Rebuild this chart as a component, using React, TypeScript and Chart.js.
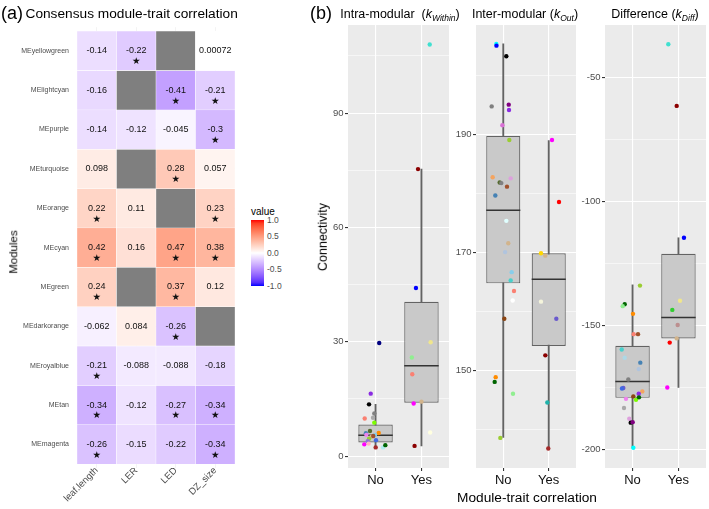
import React, { useEffect, useRef } from 'react';
import { Chart, registerables } from 'chart.js';

Chart.register(...registerables);

const FONT = '"Liberation Sans", Arial, Helvetica, sans-serif';
Chart.defaults.font.family = FONT;

// ---------------- (a) heatmap data ----------------
const modules = ['MEyellowgreen', 'MElightcyan', 'MEpurple', 'MEturquoise', 'MEorange', 'MEcyan', 'MEgreen', 'MEdarkorange', 'MEroyalblue', 'MEtan', 'MEmagenta'];
const traits = ['leaf.length', 'LER', 'LED', 'DZ_size'];
const corrLeafLength = [-0.14, -0.16, -0.14, 0.098, 0.22, 0.42, 0.24, -0.062, -0.21, -0.34, -0.26];
const corrLER = [-0.22, null, -0.12, null, 0.11, 0.16, null, 0.084, -0.088, -0.12, -0.15];
const corrLED = [null, -0.41, -0.045, 0.28, null, 0.47, 0.37, -0.26, -0.088, -0.27, -0.22];
const corrDZ = [0.00072, -0.21, -0.3, 0.057, 0.23, 0.38, 0.12, null, -0.18, -0.34, -0.34];
const sigLeafLength = [0, 0, 0, 0, 1, 1, 1, 0, 1, 1, 1];
const sigLER = [1, 0, 0, 0, 0, 0, 0, 0, 0, 0, 0];
const sigLED = [0, 1, 0, 1, 0, 1, 1, 1, 0, 1, 0];
const sigDZ = [0, 1, 1, 0, 1, 1, 0, 0, 0, 1, 1];
const legendTicks = [1.0, 0.5, 0.0, -0.5, -1.0];

const traitCols = [corrLeafLength, corrLER, corrLED, corrDZ];
const sigCols = [sigLeafLength, sigLER, sigLED, sigDZ];

// ---------------- (b) box plot data ----------------
const groupPos = [1, 2];
const groupLabels = ['No', 'Yes'];

// Intra-modular (kWithin)
const withinLower = [2.2, 2.7];
const withinQ1 = [3.6, 14.0];
const withinMedian = [5.5, 23.7];
const withinQ3 = [8.3, 40.5];
const withinUpper = [13.6, 75.3];
const withinTicks = [0, 30, 60, 90];
const withinMinorTicks = [15, 45, 75, 105];
const withinPoints: [string, number, number][] = [
  ['navy', 1.08, 29.7], ['blueviolet', 0.895, 16.4], ['black', 0.858, 13.6], ['grey', 0.973, 11.2],
  ['salmon', 0.764, 9.9], ['darkgrey', 0.945, 10.1], ['lawngreen', 0.973, 8.8], ['darkolivegreen', 0.879, 6.6],
  ['darkorange', 1.069, 6.1], ['steelblue', 0.79, 6.0], ['violet', 0.8, 5.6], ['skyblue', 0.99, 5.6],
  ['tan', 0.91, 5.1], ['yellowgreen', 0.86, 4.6], ['royalblue', 1.01, 4.2], ['mediumpurple', 0.83, 3.9],
  ['magenta', 0.755, 3.1], ['lightpink', 0.85, 3.3], ['brown', 1.003, 2.3], ['paleturquoise', 1.163, 2.3],
  ['darkgreen', 1.213, 2.9], ['sienna', 0.95, 5.3],
  ['turquoise', 2.18, 108.0], ['darkred', 1.925, 75.3], ['blue', 1.88, 44.1], ['khaki', 2.2, 29.9],
  ['lightgreen', 1.79, 25.9], ['salmon', 1.8, 21.5], ['magenta', 1.83, 13.8], ['tan', 2.0, 14.3],
  ['lightyellow', 2.19, 6.2], ['darkred', 1.85, 2.7],
];

// Inter-modular (kOut)
const outLower = [138.6, 136.7];
const outQ1 = [164.7, 154.1];
const outMedian = [177.1, 165.4];
const outQ3 = [189.7, 169.8];
const outUpper = [205.3, 188.9];
const outTicks = [150, 170, 190];
const outMinorTicks = [140, 160, 180, 200];
const outPoints: [string, number, number][] = [
  ['cyan', 0.847, 205.3], ['blue', 0.85, 205.0], ['black', 1.067, 203.2], ['grey', 0.745, 194.7],
  ['purple', 1.12, 195.0], ['blueviolet', 1.126, 194.1], ['orchid', 0.98, 191.5], ['yellowgreen', 1.133, 189.0],
  ['sandybrown', 0.767, 182.7], ['darkolivegreen', 0.921, 181.8], ['grey', 0.957, 181.7], ['plum', 1.163, 182.5],
  ['sienna', 1.082, 181.1], ['steelblue', 0.825, 179.6], ['lightcyan', 1.067, 175.3], ['tan', 1.11, 171.5],
  ['lightsteelblue', 1.04, 170.0], ['skyblue', 1.185, 166.6], ['mediumturquoise', 1.163, 165.2], ['salmon', 1.236, 163.4],
  ['white', 1.207, 161.8], ['saddlebrown', 1.023, 158.7], ['darkorange', 0.833, 148.8], ['darkgreen', 0.811, 148.0],
  ['lightgreen', 1.214, 146.0], ['yellowgreen', 0.935, 138.5],
  ['magenta', 2.072, 189.0], ['red', 2.226, 178.5], ['gold', 1.83, 169.8], ['tan', 1.925, 169.4],
  ['beige', 1.83, 161.6], ['slateblue', 2.167, 158.7], ['darkred', 1.925, 152.5], ['lightseagreen', 1.969, 144.5],
  ['brown', 1.99, 136.7],
];

// Difference (kDiff)
const diffLower = [-199.4, -175.0];
const diffQ1 = [-179.2, -155.2];
const diffMedian = [-172.6, -146.8];
const diffQ3 = [-158.2, -121.1];
const diffUpper = [-133.6, -114.6];
const diffTicks = [-200, -150, -100, -50];
const diffMinorTicks = [-175, -125, -75];
const diffPoints: [string, number, number][] = [
  ['yellowgreen', 1.162, -133.9], ['darkgreen', 0.829, -141.4], ['lightgreen', 0.786, -142.2], ['darkorange', 1.01, -145.3],
  ['salmon', 1.025, -153.5], ['sienna', 1.119, -153.5], ['mediumturquoise', 0.764, -159.7], ['lightblue', 0.829, -163.0],
  ['steelblue', 1.169, -165.0], ['lightsteelblue', 1.134, -167.6], ['grey', 0.908, -171.8], ['slateblue', 0.799, -175.2],
  ['royalblue', 0.77, -175.4], ['sandybrown', 1.213, -176.6], ['blueviolet', 1.134, -177.5], ['saddlebrown', 1.017, -178.6],
  ['violet', 0.857, -179.6], ['lawngreen', 1.075, -180.0], ['darkgreen', 1.14, -179.0], ['darkgrey', 0.814, -183.3],
  ['plum', 0.929, -187.6], ['black', 0.96, -189.2], ['purple', 1.003, -189.0], ['cyan', 1.017, -199.3],
  ['turquoise', 1.779, -36.5], ['darkred', 1.962, -61.4], ['blue', 2.12, -114.6], ['khaki', 2.034, -140.0],
  ['limegreen', 1.866, -143.7], ['rosybrown', 1.983, -149.8], ['tan', 1.962, -155.2], ['red', 1.81, -156.9],
  ['magenta', 1.757, -175.0],
];

// ---------------- colour helpers (ggplot gradient2 in Lab) ----------------
const LAB_LOW = [32.297, 79.1875, -107.8602];
const LAB_MID = [100, 0, 0];
const LAB_HIGH = [53.2408, 80.0925, 67.2032];

function labToHex(L: number, a: number, b: number) {
  const fy = (L + 16) / 116;
  const fx = fy + a / 500;
  const fz = fy - b / 200;
  const f = (t: number) => (t ** 3 > 0.008856 ? t ** 3 : (t - 16 / 116) / 7.787);
  const X = f(fx) * 0.95047, Y = f(fy), Z = f(fz) * 1.08883;
  const lin = [
    3.2404542 * X - 1.5371385 * Y - 0.4985314 * Z,
    -0.969266 * X + 1.8760108 * Y + 0.041556 * Z,
    0.0556434 * X - 0.2040259 * Y + 1.0572252 * Z,
  ];
  return '#' + lin.map((c) => {
    const g = c <= 0.0031308 ? 12.92 * c : 1.055 * Math.pow(c, 1 / 2.4) - 0.055;
    const v = Math.round(Math.max(0, Math.min(1, g)) * 255);
    return v.toString(16).padStart(2, '0');
  }).join('');
}

function divColor(v: number | null) {
  if (v == null) return '#7F7F7F';
  const t = Math.max(-1, Math.min(1, v));
  const end = t < 0 ? LAB_LOW : LAB_HIGH;
  const k = Math.abs(t);
  return labToHex(
    LAB_MID[0] + (end[0] - LAB_MID[0]) * k,
    LAB_MID[1] + (end[1] - LAB_MID[1]) * k,
    LAB_MID[2] + (end[2] - LAB_MID[2]) * k,
  );
}

// ---------------- plugins ----------------
const cellTextPlugin = {
  id: 'cellText',
  afterDatasetsDraw(chart: any) {
    const ctx = chart.ctx;
    ctx.save();
    ctx.textAlign = 'center';
    ctx.textBaseline = 'middle';
    ctx.fillStyle = '#111111';
    chart.data.datasets.forEach((_: any, r: number) => {
      const meta = chart.getDatasetMeta(r);
      meta.data.forEach((el: any, c: number) => {
        const v = traitCols[c][r];
        if (v == null) return;
        const cx = el.x;
        const cy = (el.y + el.base) / 2;
        ctx.font = `9px ${FONT}`;
        ctx.fillText(String(v), cx, cy);
        if (sigCols[c][r]) {
          ctx.font = '9.5px "DejaVu Sans", sans-serif';
          ctx.fillText('\u2605', cx, cy + 11);
        }
      });
    });
    ctx.restore();
  },
};

const panelBgPlugin = {
  id: 'panelBg',
  beforeDraw(chart: any) {
    const { ctx, chartArea: a } = chart;
    ctx.save();
    ctx.fillStyle = '#EBEBEB';
    ctx.fillRect(a.left, a.top, a.right - a.left, a.bottom - a.top);
    ctx.restore();
  },
};

const medianPlugin = {
  id: 'boxMedian',
  afterDatasetDraw(chart: any, args: any) {
    const ds = chart.data.datasets[args.index];
    if (!ds.medians) return;
    const ys = chart.scales.y;
    const ctx = chart.ctx;
    ctx.save();
    ctx.strokeStyle = '#333333';
    ctx.lineWidth = 1.5;
    args.meta.data.forEach((el: any, i: number) => {
      const y = ys.getPixelForValue(ds.medians[i]);
      ctx.beginPath();
      ctx.moveTo(el.x - el.width / 2, y);
      ctx.lineTo(el.x + el.width / 2, y);
      ctx.stroke();
    });
    ctx.restore();
  },
};

// ---------------- chart configs ----------------
function heatmapConfig(): any {
  const n = modules.length;
  return {
    type: 'bar',
    data: {
      labels: traits,
      datasets: modules.map((m, r) => ({
        label: m,
        data: traits.map(() => [n - 1 - r, n - r]),
        backgroundColor: traitCols.map((col) => divColor(col[r])),
        borderColor: 'rgba(255,255,255,0.85)',
        borderWidth: 0.5,
        borderSkipped: false,
        grouped: false,
        barPercentage: 1,
        categoryPercentage: 1,
      })),
    },
    options: {
      responsive: false,
      animation: false,
      devicePixelRatio: 1,
      layout: { padding: { top: 10, right: 4, left: 0, bottom: 0 } },
      plugins: { legend: { display: false }, tooltip: { enabled: false } },
      scales: {
        x: {
          type: 'category',
          offset: true,
          grid: { offset: false, color: '#EBEBEB', lineWidth: 0.6, drawTicks: false },
          border: { display: false },
          ticks: { minRotation: 45, maxRotation: 45, autoSkip: false, color: '#4D4D4D', font: { size: 9.5 }, padding: -3 },
          afterFit: (s: any) => { s.height = 41; },
        },
        y: {
          type: 'linear',
          min: -0.1,
          max: n + 0.1,
          afterBuildTicks: (s: any) => { s.ticks = modules.map((_, i) => ({ value: i + 0.5 })); },
          ticks: {
            callback: (v: number) => modules[n - 1 - Math.floor(v)],
            color: '#4D4D4D',
            font: { size: 7 },
            padding: 8,
            autoSkip: false,
          },
          grid: { color: '#EBEBEB', lineWidth: 0.6, drawTicks: false },
          border: { display: false },
          afterFit: (s: any) => { s.width = 77; },
        },
      },
    },
    plugins: [cellTextPlugin],
  };
}

function boxConfig(
  lower: number[], q1: number[], median: number[], q3: number[], upper: number[],
  points: [string, number, number][], yMin: number, yMax: number,
  major: number[], minor: number[], axisW: number,
): any {
  const allTicks = [...major, ...minor].sort((a, b) => a - b);
  return {
    type: 'bar',
    data: {
      datasets: [
        {
          type: 'scatter',
          data: points.map(([, x, y]) => ({ x, y })),
          pointBackgroundColor: points.map(([m]) => m),
          pointBorderWidth: 0,
          pointRadius: 2.2,
          order: 0,
        },
        {
          type: 'bar',
          data: groupPos.map((g, i) => ({ x: g, y: [q1[i], q3[i]] })),
          backgroundColor: '#C9C9C9',
          borderColor: '#636363',
          borderWidth: 1.2,
          borderSkipped: false,
          grouped: false,
          barPercentage: 0.75,
          categoryPercentage: 1,
          medians: median,
          order: 1,
        },
        {
          type: 'bar',
          data: groupPos.map((g, i) => ({ x: g, y: [lower[i], upper[i]] })),
          backgroundColor: '#636363',
          maxBarThickness: 1.2,
          grouped: false,
          barPercentage: 1,
          categoryPercentage: 1,
          order: 2,
        },
      ],
    },
    options: {
      responsive: false,
      animation: false,
      devicePixelRatio: 1,
      layout: { padding: { top: 10, right: 4, left: 0, bottom: 0 } },
      plugins: { legend: { display: false }, tooltip: { enabled: false } },
      scales: {
        x: {
          type: 'linear',
          min: 0.4,
          max: 2.6,
          offset: false,
          afterBuildTicks: (s: any) => { s.ticks = groupPos.map((v) => ({ value: v })); },
          afterFit: (s: any) => { s.height = 24; },
          ticks: {
            callback: (v: number) => groupLabels[groupPos.indexOf(v)] ?? '',
            color: '#111111',
            font: { size: 13 },
            padding: 2,
            autoSkip: false,
            maxRotation: 0,
          },
          grid: { color: '#FFFFFF', lineWidth: 1.1, tickColor: '#333333', tickLength: 3, offset: false },
          border: { display: false },
        },
        y: {
          type: 'linear',
          min: yMin,
          max: yMax,
          afterBuildTicks: (s: any) => { s.ticks = allTicks.map((v) => ({ value: v })); },
          afterFit: (s: any) => { s.width = axisW; },
          ticks: {
            callback: (v: number) => (major.includes(v) ? String(v) : ''),
            color: '#4D4D4D',
            font: { size: 9.5 },
            padding: 1.5,
            autoSkip: false,
          },
          grid: {
            color: '#FFFFFF',
            lineWidth: (c: any) => (major.includes(c.tick?.value) ? 1.1 : 0.55),
            tickColor: (c: any) => (major.includes(c.tick?.value) ? '#333333' : 'rgba(0,0,0,0)'),
            tickLength: 3,
          },
          border: { display: false },
        },
      },
    },
    plugins: [panelBgPlugin, medianPlugin],
  };
}

// ---------------- components ----------------
function ChartCanvas({ left, top, width, height, make }: any) {
  const ref = useRef<HTMLCanvasElement | null>(null);
  useEffect(() => {
    const chart = new Chart(ref.current as HTMLCanvasElement, make());
    return () => chart.destroy();
  }, []);
  return (
    <canvas
      ref={ref}
      width={width}
      height={height}
      style={{ position: 'absolute', left, top, width, height }}
    />
  );
}

function Txt({ x, y, size, rotate, color, children }: any) {
  return (
    <div
      style={{
        position: 'absolute',
        left: x,
        top: y,
        fontSize: size,
        lineHeight: 1,
        whiteSpace: 'nowrap',
        color: color || '#000',
        transform: `translate(-50%, -50%)${rotate ? ` rotate(${rotate}deg)` : ''}`,
      }}
    >
      {children}
    </div>
  );
}

const subStyle: any = { fontSize: '0.68em', fontStyle: 'italic', verticalAlign: '-0.35em', lineHeight: 0 };

export default function App() {
  const gradientStops = [];
  for (let i = 0; i <= 20; i++) {
    const v = 1 - i / 10;
    gradientStops.push(`${divColor(v)} ${(i / 20) * 100}%`);
  }
  const legendTop = 219.5;
  const legendH = 66;

  return (
    <div
      style={{
        position: 'absolute', left: 0, top: 0, width: 709, height: 509,
        overflow: 'hidden', background: '#FFFFFF', fontFamily: FONT,
      }}
    >
      <ChartCanvas left={0} top={15} width={239} height={494} make={heatmapConfig} />
      <ChartCanvas
        left={318} top={15} width={135} height={477}
        make={() => boxConfig(withinLower, withinQ1, withinMedian, withinQ3, withinUpper, withinPoints, -3.1, 113.1, withinTicks, withinMinorTicks, 30)}
      />
      <ChartCanvas
        left={444} top={15} width={136} height={477}
        make={() => boxConfig(outLower, outQ1, outMedian, outQ3, outUpper, outPoints, 133.4, 208.5, outTicks, outMinorTicks, 32)}
      />
      <ChartCanvas
        left={571} top={15} width={139} height={477}
        make={() => boxConfig(diffLower, diffQ1, diffMedian, diffQ3, diffUpper, diffPoints, -207.5, -28.75, diffTicks, diffMinorTicks, 34)}
      />

      {/* panel (a) texts */}
      <div style={{ position: 'absolute', left: 1, top: 2, fontSize: 18, lineHeight: '22px' }}>(a)</div>
      <div style={{ position: 'absolute', left: 25.5, top: 5, fontSize: 13.7, lineHeight: '17px' }}>Consensus module-trait correlation</div>
      <Txt x={14} y={252} size={11.5} rotate={-90}>Modules</Txt>

      {/* colour legend */}
      <div style={{ position: 'absolute', left: 251, top: 206, fontSize: 10, lineHeight: '12px' }}>value</div>
      <div
        style={{
          position: 'absolute', left: 251, top: legendTop, width: 13, height: legendH,
          background: `linear-gradient(to bottom, ${gradientStops.join(', ')})`,
        }}
      />
      {legendTicks.map((t, i) => (
        <div
          key={t}
          style={{
            position: 'absolute', left: 267, top: legendTop + (i * legendH) / 4 - 5,
            fontSize: 8.5, lineHeight: '10px', color: '#4D4D4D',
          }}
        >
          {t.toFixed(1)}
        </div>
      ))}

      {/* panel (b) texts */}
      <div style={{ position: 'absolute', left: 310, top: 2, fontSize: 18, lineHeight: '22px' }}>(b)</div>
      <Txt x={400} y={14} size={12.5}>
        Intra-modular&nbsp;&nbsp;(<i>k</i><span style={subStyle}>Within</span>)
      </Txt>
      <Txt x={525} y={14} size={12.5}>
        Inter-modular (<i>k</i><span style={subStyle}>Out</span>)
      </Txt>
      <Txt x={655} y={14} size={12.5}>
        Difference (<i>k</i><span style={subStyle}>Diff</span>)
      </Txt>
      <Txt x={322.5} y={237} size={12.5} rotate={-90}>Connectivity</Txt>
      <Txt x={527} y={498} size={13.7}>Module-trait correlation</Txt>
    </div>
  );
}
